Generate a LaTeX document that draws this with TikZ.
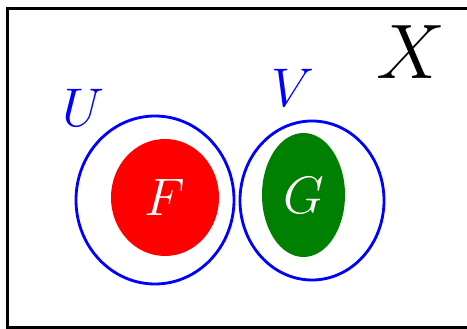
\RequirePackage{fix-cm}
\documentclass[tikz,border=0pt]{standalone}
\usepackage{xcolor}
\usepackage{tikz}
\usetikzlibrary{shapes.geometric}
\definecolor{setblue}{RGB}{0,0,255}
\definecolor{setred}{RGB}{255,0,0}
\definecolor{setgreen}{RGB}{0,128,0}

\begin{document}
\begin{tikzpicture}[
  open/.style={ellipse,draw=setblue,line width=1.6pt,inner sep=0pt},
  closed/.style={ellipse,inner sep=0pt,text=white,font=\fontsize{30}{30}\selectfont},
  setlabel/.style={text=setblue,font=\fontsize{31}{31}\selectfont},
]
  \useasboundingbox (0,0) rectangle (9.34,6.58);
  \clip (0,0) rectangle (9.34,6.58);
  \draw[line width=1.7pt] (0.15,0.03) rectangle (9.6,6.41);
  % the two open sets
  \node[open,minimum width=3.16cm,minimum height=3.36cm] (U) at (3.10,2.58) {};
  \node[open,minimum width=2.88cm,minimum height=3.18cm] (V) at (6.24,2.57) {};
  % the closed sets inside them
  \node[closed,fill=setred,minimum width=2.16cm,minimum height=2.34cm] (F) at (3.30,2.63) {$F$};
  \node[closed,fill=setgreen,minimum width=1.66cm,minimum height=2.48cm] (G) at (6.07,2.68) {$G$};
  \node[setlabel] (Ulab) at (1.66,4.42) {$U$};
  \node[setlabel] (Vlab) at (5.86,4.82) {$V$};
  \node[font=\fontsize{44}{44}\selectfont] (X) at (8.22,5.54) {$X$};
\end{tikzpicture}
\end{document}
